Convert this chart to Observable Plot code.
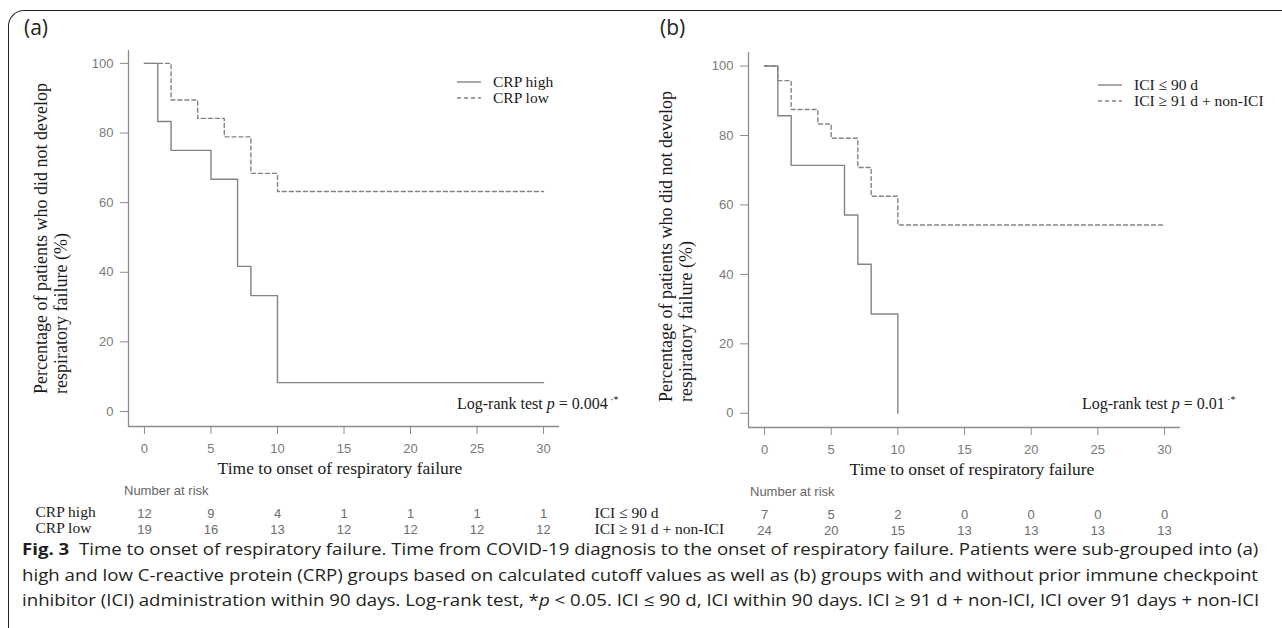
<!DOCTYPE html>
<html>
<head>
<meta charset="utf-8">
<script src="https://cdn.jsdelivr.net/npm/d3@7"></script>
<script src="https://cdn.jsdelivr.net/npm/@observablehq/plot@0.6"></script>
<style>
  html,body{margin:0;padding:0;background:#fff;}
  #root{position:relative;width:1282px;height:628px;overflow:hidden;background:#fff;}
  .abs{position:absolute;white-space:nowrap;line-height:1;}
  .serif{font-family:"Liberation Serif","Times New Roman",serif;color:#1a1a1a;}
  .sans{font-family:"Liberation Sans",Arial,sans-serif;color:#707070;}
  .frame{position:absolute;left:8px;top:10px;width:1400px;height:800px;border-top:1.5px solid #222;border-left:1.5px solid #222;border-top-left-radius:16px;}
  .plabel{font-family:"Open Sans","Noto Sans",sans-serif;font-size:21px;color:#231f20;font-weight:400;}
  .ytitle{transform-origin:0 0;transform:rotate(-90deg);font-size:18px;line-height:20px;}
  .cap{position:absolute;left:22px;font-family:"Open Sans","Noto Sans",sans-serif;font-size:16.5px;color:#231f20;white-space:nowrap;transform-origin:0 50%;line-height:1;}
  .cap b{font-weight:700;}
  sup.ast{font-size:10px;vertical-align:6px;}
</style>
</head>
<body>
<div id="root"></div>
<script>
// ---------------- data ----------------
const ticksX = [0, 5, 10, 15, 20, 25, 30];
const ticksY = [0, 20, 40, 60, 80, 100];

// Panel (a): CRP groups
const groupsA = ["CRP high", "CRP low"];
const crpHighTime = [0, 1, 2, 5, 7, 8, 10, 30];
const crpHighSurv = [100, 83.3, 75, 66.7, 41.7, 33.3, 8.3, 8.3];
const crpLowTime = [0, 2, 4, 6, 8, 10, 30];
const crpLowSurv = [100, 89.5, 84.2, 78.9, 68.4, 63.2, 63.2];
const riskCrpHigh = [12, 9, 4, 1, 1, 1, 1];
const riskCrpLow = [19, 16, 13, 12, 12, 12, 12];

// Panel (b): ICI groups
const groupsB = ["ICI ≤ 90 d", "ICI ≥ 91 d + non-ICI"];
const iciShortTime = [0, 1, 2, 6, 7, 8, 10];
const iciShortSurv = [100, 85.7, 71.4, 57.1, 42.9, 28.6, 0];
const iciLongTime = [0, 1, 2, 4, 5, 7, 8, 10, 30];
const iciLongSurv = [100, 95.8, 87.5, 83.3, 79.2, 70.8, 62.5, 54.2, 54.2];
const riskIciShort = [7, 5, 2, 0, 0, 0, 0];
const riskIciLong = [24, 20, 15, 13, 13, 13, 13];

const pValueA = "0.004";
const pValueB = "0.01";

// ---------------- helpers ----------------
const root = document.getElementById("root");
const curveGray = "#838383";
const axisGray = "#8c8c8c";
const labelGray = "#7a7a7a";
const sansFont = "'Liberation Sans', Arial, sans-serif";
const serifFont = "'Liberation Serif', 'Times New Roman', serif";
const xDomain = [-1.2, 31.2];

function zipSeries(ts, ss) { return ts.map((t, i) => ({t, s: ss[i]})); }
function riskRows(groups, a, b) {
  return [
    ...ticksX.map((t, i) => ({group: groups[0], t, n: a[i]})),
    ...ticksX.map((t, i) => ({group: groups[1], t, n: b[i]}))
  ];
}
function place(el, left, top) {
  const d = document.createElement("div");
  d.style.position = "absolute"; d.style.left = left + "px"; d.style.top = top + "px";
  d.appendChild(el); root.appendChild(d); return d;
}
function addHTML(html, left, top, cls, extra = "") {
  const d = document.createElement("div");
  d.className = "abs " + cls;
  d.style.cssText += `left:${left}px;top:${top}px;${extra}`;
  d.innerHTML = html;
  root.appendChild(d);
  return d;
}

function kmPlot({solid, dashed, width, height, marginLeft, marginRight, marginTop, marginBottom, yDomain}) {
  return Plot.plot({
    width, height, marginLeft, marginRight, marginTop, marginBottom,
    x: {domain: xDomain, label: null},
    y: {domain: yDomain, label: null},
    style: {fontFamily: sansFont, fontSize: "13px", color: labelGray, background: "transparent"},
    marks: [
      Plot.ruleX([xDomain[0]], {stroke: axisGray, strokeWidth: 1.3}),
      Plot.ruleY([yDomain[0]], {stroke: axisGray, strokeWidth: 1.3}),
      Plot.axisX({ticks: ticksX, tickSize: 8, tickPadding: 9, stroke: axisGray, fill: labelGray, label: null, fontSize: 13}),
      Plot.axisY({ticks: ticksY, tickSize: 8, tickPadding: 7, stroke: axisGray, fill: labelGray, label: null, fontSize: 13}),
      Plot.line(dashed, {x: "t", y: "s", curve: "step-after", stroke: curveGray, strokeWidth: 1.4, strokeDasharray: "4,3"}),
      Plot.line(solid, {x: "t", y: "s", curve: "step-after", stroke: curveGray, strokeWidth: 1.4})
    ]
  });
}

function riskPlot({rows, groups, width, marginLeft, marginRight, rowRange, labelDx}) {
  return Plot.plot({
    width, height: 60, marginLeft, marginRight, marginTop: 0, marginBottom: 0,
    x: {domain: xDomain, axis: null},
    y: {type: "point", domain: groups, range: rowRange, padding: 0, axis: null},
    style: {background: "transparent"},
    marks: [
      Plot.text(rows, {x: "t", y: "group", text: d => String(d.n), fill: "#6e6e6e", fontFamily: sansFont, fontSize: 13}),
      Plot.text(groups, {y: d => d, text: d => d, frameAnchor: "left", textAnchor: "start", dx: labelDx, dy: -1,
        fill: "#1a1a1a", fontFamily: serifFont, fontSize: 15.5})
    ]
  });
}

function legend(left, top, labels) {
  const svgNS = "http://www.w3.org/2000/svg";
  const svg = document.createElementNS(svgNS, "svg");
  svg.setAttribute("width", 26); svg.setAttribute("height", 24);
  [0, 1].forEach(i => {
    const l = document.createElementNS(svgNS, "line");
    l.setAttribute("x1", 1); l.setAttribute("x2", 25);
    l.setAttribute("y1", 4 + i * 16); l.setAttribute("y2", 4 + i * 16);
    l.setAttribute("stroke", curveGray); l.setAttribute("stroke-width", 1.4);
    if (i === 1) l.setAttribute("stroke-dasharray", "4,3");
    svg.appendChild(l);
  });
  place(svg, left, top - 4);
  labels.forEach((lab, i) => {
    addHTML(lab, left + 37, top + i * 16, "serif", "font-size:15.5px;transform:translateY(-52%);");
  });
}

// ---------------- frame & labels ----------------
const fr = document.createElement("div"); fr.className = "frame"; root.appendChild(fr);
addHTML("(a)", 24, 17, "plabel");
addHTML("(b)", 660, 17, "plabel");

// ---------------- panel (a) ----------------
place(kmPlot({
  solid: zipSeries(crpHighTime, crpHighSurv),
  dashed: zipSeries(crpLowTime, crpLowSurv),
  width: 620, height: 480, marginLeft: 128, marginRight: 61, marginTop: 50, marginBottom: 54,
  yDomain: [-4.3, 103.7]
}), 0, 0);

// ---------------- panel (b) ----------------
place(kmPlot({
  solid: zipSeries(iciShortTime, iciShortSurv),
  dashed: zipSeries(iciLongTime, iciLongSurv),
  width: 662, height: 480, marginLeft: 128, marginRight: 102, marginTop: 52, marginBottom: 53,
  yDomain: [-4.1, 103.9]
}), 620, 0);

// y titles
addHTML("Percentage of patients who did not develop<br>respiratory failure (%)", 31, 394, "serif ytitle");
addHTML("Percentage of patients who did not develop<br>respiratory failure (%)", 656, 402, "serif ytitle");

// x titles
addHTML("Time to onset of respiratory failure", 340, 469, "serif", "font-size:17.5px;transform:translate(-50%,-50%);");
addHTML("Time to onset of respiratory failure", 972, 470, "serif", "font-size:17.5px;transform:translate(-50%,-50%);");

// legends
legend(456, 82, groupsA);
legend(1097, 85, groupsB);

// log-rank annotations
addHTML(`Log-rank test <i>p</i> = ${pValueA}<sup class="ast"> ·*</sup>`, 457, 403, "serif", "font-size:16px;transform:translateY(-50%);");
addHTML(`Log-rank test <i>p</i> = ${pValueB}<sup class="ast"> ·*</sup>`, 1082, 403, "serif", "font-size:16px;transform:translateY(-50%);");

// ---------------- risk tables ----------------
addHTML("Number at risk", 124, 484, "sans", "font-size:13px;color:#666;");
addHTML("Number at risk", 750, 485, "sans", "font-size:13px;color:#666;");
place(riskPlot({rows: riskRows(groupsA, riskCrpHigh, riskCrpLow), groups: groupsA, width: 620,
  marginLeft: 128, marginRight: 61, rowRange: [33, 49], labelDx: 35 - 128}), 0, 480);
place(riskPlot({rows: riskRows(groupsB, riskIciShort, riskIciLong), groups: groupsB, width: 722,
  marginLeft: 188, marginRight: 102, rowRange: [34, 50], labelDx: 594 - 748}), 560, 480);

// ---------------- caption ----------------
const captionLines = [
  "<b>Fig. 3</b>&nbsp; Time to onset of respiratory failure. Time from COVID-19 diagnosis to the onset of respiratory failure. Patients were sub-grouped into (a)",
  "high and low C-reactive protein (CRP) groups based on calculated cutoff values as well as (b) groups with and without prior immune checkpoint",
  "inhibitor (ICI) administration within 90 days. Log-rank test, *<i>p</i> &lt; 0.05. ICI ≤ 90 d, ICI within 90 days. ICI ≥ 91 d + non-ICI, ICI over 91 days + non-ICI"
];
const capTops = [541, 567, 592];
const capEls = captionLines.map((h, i) => {
  const d = document.createElement("div");
  d.className = "cap"; d.style.top = capTops[i] + "px"; d.innerHTML = h;
  root.appendChild(d); return d;
});
function fitCaption() {
  const w = capEls[1].getBoundingClientRect().width;
  const s = (1258 - 22) / w;
  capEls.forEach(d => d.style.transform = `scaleX(${s})`);
}
fitCaption();
if (document.fonts && document.fonts.ready) document.fonts.ready.then(() => { capEls.forEach(d => d.style.transform = ""); fitCaption(); });
</script>
</body>
</html>
